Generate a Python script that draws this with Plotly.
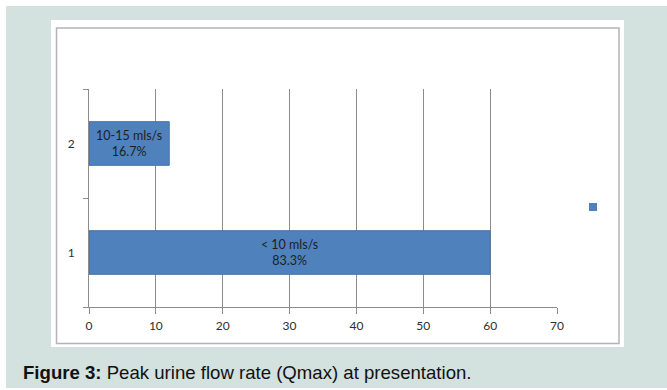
import plotly.graph_objects as go

W, H = 667, 390

categories = ["1", "2"]
values = [60, 12]
bar_labels = ["< 10 mls/s<br>83.3%", "10-15 mls/s<br>16.7%"]
x_ticks = [0, 10, 20, 30, 40, 50, 60, 70]

BLUE = "#4f81bd"
TEAL = "#d3e1df"
GRID = "#8c8c8c"

def px(x):
    return x / W

def py(y):
    return 1 - y / H

fig = go.Figure()
fig.add_trace(go.Bar(
    y=categories, x=values, orientation="h",
    marker=dict(color=BLUE, line=dict(color="#4472a8", width=1)),
    text=bar_labels, textposition="inside", insidetextanchor="middle",
    textfont=dict(family="Lato, Carlito, sans-serif", size=12.5, color="#1e1e1e"),
    constraintext="none", showlegend=False, width=0.4,
))
# legend-only entry (empty name, like the reference)
fig.add_trace(go.Scatter(
    x=[None], y=[None], mode="markers", name=" ",
    marker=dict(symbol="square", size=8, color=BLUE), showlegend=True,
))

shapes = [
    dict(type="rect", xref="paper", yref="paper", x0=px(6), x1=px(667), y0=py(388), y1=py(6),
         fillcolor=TEAL, line=dict(width=0), layer="below"),
    dict(type="rect", xref="paper", yref="paper", x0=px(51), x1=px(624), y0=py(347), y1=py(20),
         fillcolor="white", line=dict(width=0), layer="below"),
    dict(type="rect", xref="paper", yref="paper", x0=px(56.5), x1=px(619), y0=py(343.5), y1=py(28),
         fillcolor="rgba(0,0,0,0)", line=dict(width=1.5, color="#b4b4b4"), layer="below"),
]

fig.update_layout(
    width=W, height=H,
    margin=dict(l=0, r=0, t=0, b=0, autoexpand=False),
    paper_bgcolor="white", plot_bgcolor="rgba(0,0,0,0)",
    shapes=shapes,
    bargap=0.6,
    font=dict(family="Lato, Carlito, sans-serif", size=12, color="#2e2e2e"),
    xaxis=dict(
        domain=[px(89), px(557)], range=[0, 70], tickvals=x_ticks,
        showgrid=True, gridcolor=GRID, gridwidth=1,
        showline=True, linecolor=GRID, linewidth=1,
        ticks="outside", ticklen=6, tickcolor=GRID,
        zeroline=False, fixedrange=True, ticklabelstandoff=2,
    ),
    yaxis=dict(
        domain=[py(307), py(89)], type="category", categoryorder="array",
        categoryarray=categories, range=[-0.5, 1.5],
        tickson="boundaries", ticks="outside", ticklen=5, tickcolor=GRID,
        showgrid=False, showline=True, linecolor=GRID, linewidth=1,
        zeroline=False, fixedrange=True, ticklabelstandoff=11,
    ),
    legend=dict(x=px(573), y=py(207), xanchor="left", yanchor="middle",
                bgcolor="rgba(0,0,0,0)", font=dict(size=1)),
    annotations=[dict(
        xref="paper", yref="paper", x=px(21), y=py(372), xanchor="left", yanchor="middle",
        text="<b>Figure 3:</b> Peak urine flow rate (Qmax) at presentation.",
        showarrow=False, font=dict(family="Liberation Sans, Arial, sans-serif", size=18.6, color="#111111"),
    )],
)

fig.write_html("out.html")
